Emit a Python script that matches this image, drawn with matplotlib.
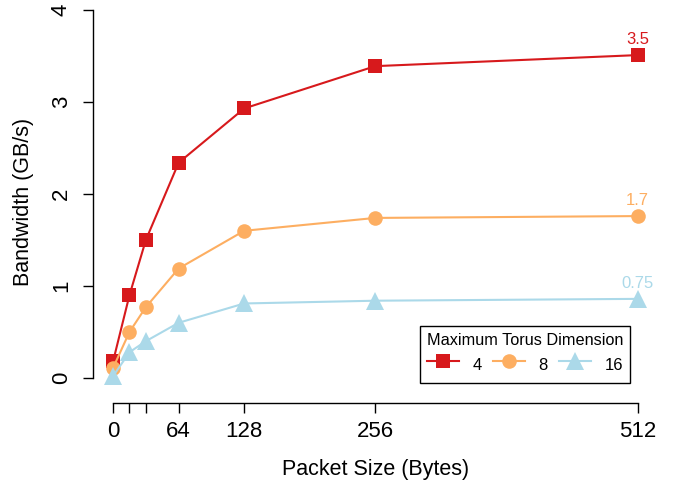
"""Bandwidth vs packet size for different maximum torus dimensions."""

import matplotlib

matplotlib.use("Agg")
import matplotlib.pyplot as plt

plt.rcParams["font.family"] = ["Liberation Sans", "DejaVu Sans"]

# data
packet_sizes = [0, 16, 32, 64, 128, 256, 512]
bw_dim4 = [0.18, 0.90, 1.50, 2.34, 2.93, 3.39, 3.51]
bw_dim8 = [0.11, 0.50, 0.77, 1.19, 1.60, 1.74, 1.76]
bw_dim16 = [0.02, 0.28, 0.40, 0.60, 0.81, 0.84, 0.86]
series_labels = ["4", "8", "16"]
end_labels = ["3.5", "1.7", "0.75"]
tick_positions = [0, 16, 32, 64, 128, 256, 512]
tick_labels = ["0", "", "", "64", "128", "256", "512"]

colors = ["#D7191C", "#FDAE61", "#ABD9E9"]
markers = ["s", "o", "^"]
msizes = [10.5, 10.5, 13.5]

fig = plt.figure(figsize=(6.76, 4.86), dpi=100)
ax = fig.add_axes([93 / 676, 1 - 403 / 486, 565 / 676, 403 / 486])

for ys, lab, col, mk, ms, end in zip(
    (bw_dim4, bw_dim8, bw_dim16), series_labels, colors, markers, msizes, end_labels
):
    ax.plot(packet_sizes, ys, color=col, lw=1.5, marker=mk, ms=ms,
            markeredgewidth=0, label=lab, clip_on=False, zorder=3)
    ax.annotate(end, (packet_sizes[-1], ys[-1]), xytext=(0, 11),
                textcoords="offset points", ha="center", va="center",
                color=col, fontsize=12)

ax.set_xlim(-19.6, 532)
ax.set_ylim(-0.272, 4.109)

for side in ("top", "right"):
    ax.spines[side].set_visible(False)
ax.spines["left"].set_bounds(0, 4)
ax.spines["bottom"].set_bounds(0, 512)
ax.spines["left"].set_linewidth(1.0)
ax.spines["bottom"].set_linewidth(1.0)

ax.set_xticks(tick_positions)
ax.set_xticklabels(tick_labels)
ax.set_yticks([0, 1, 2, 3, 4])
ax.set_yticklabels(["0", "1", "2", "3", "4"], rotation=90, va="center")
ax.tick_params(axis="both", length=7.2, width=1.0, labelsize=16, pad=6)
ax.tick_params(axis="y", pad=8)

ax.set_xlabel("Packet Size (Bytes)", fontsize=15.5, labelpad=12)
ax.set_ylabel("Bandwidth (GB/s)", fontsize=15.5, labelpad=12)

leg = ax.legend(title="Maximum Torus Dimension", ncol=3, fontsize=12,
                title_fontsize=11.7, loc="lower right",
                bbox_to_anchor=(630 / 676, 1 - 383 / 486),
                bbox_transform=fig.transFigure, borderaxespad=0,
                fancybox=False, edgecolor="black", framealpha=1,
                handlelength=1.9, handleheight=1.8, columnspacing=0.7,
                handletextpad=0.8, borderpad=0.4, labelspacing=0.3)
leg.get_frame().set_linewidth(1.0)

fig.savefig("out.png", dpi=100)
